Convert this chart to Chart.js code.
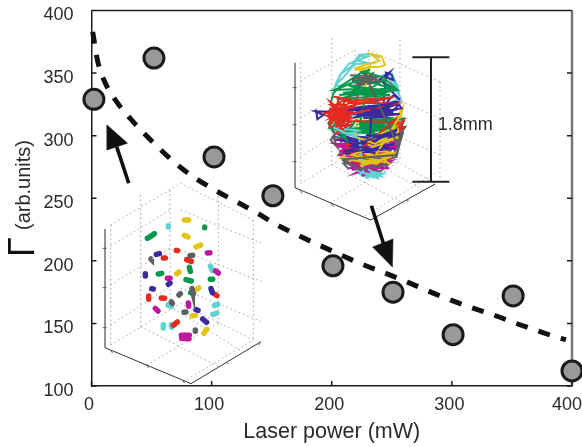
<!DOCTYPE html>
<html><head><meta charset="utf-8">
<style>html,body{margin:0;padding:0;background:#fff}#w{width:582px;height:447px;position:relative}</style>
<script src="https://cdn.jsdelivr.net/npm/chart.js@4"></script>
</head><body><div id="w"><canvas id="c" width="582" height="447"></canvas></div>
<script>
const xTickLabels=['0','100','200','300','400'];
const yTickLabels=['100','150','200','250','300','350','400'];
const laserPower=[2,52,102,151,201,251,301,351,400];
const gamma=[329,362,283,252,196,175,141,172,112];
const fitX=[1,5,11,21,32,53,75,100,125,140,150,175,200,226,245,263,290,315,334,352,370,389,395];
const fitY=[383,360,343,327,314,293,274,258,245,237,231,219,208,197,190,183,172,163,157,150.5,144.5,138.5,137];
const arrowUp=[[31,262],[21,291]];
const arrowUpHead=[[13,308.5],[13,288.5],[30,294],[13,308.5]];
const arrowDown=[[233,244],[243,214]];
const arrowDownHead=[[250.5,195],[234,211],[251,217.5],[250.5,195]];

// left inset (its own hidden axes)
const leftAxisV=[[45,57],[45,413]];
const leftEdges=[[45,413],[303,521],[513,395]];
const leftTicks=[[[38,115],[50,115]],[[38,233],[50,233]],[[38,353],[50,353]],[[62,420],[68,430]],[[170,466],[176,474]],[[278,512],[284,520]],[[410,458],[416,462]],[[505,405],[512,400]]];
const leftDots=[[[62,45],[62,405]],[[152,-45],[152,350]],[[240,-60],[240,290]],[[385,-55],[385,340]],[[490,30],[490,390]],
[[62,108],[240,0]],[[62,225],[240,115]],[[62,345],[240,230]],[[62,405],[272,280],[490,390]],[[62,45],[272,-80],[490,30]],
[[272,0],[515,100]],[[272,120],[515,215]],[[272,235],[515,335]],[[170,465],[385,340]],[[280,515],[490,390]],[[152,350],[385,470]],[[240,290],[450,420]]];
const clusterYellow=[[[283,30],[296,30]],[[283,76],[294,81]],[[318,111],[332,105]],[[260,191],[267,186]],[[320,238],[326,234]],[[306,318],[316,316]],[[342,370],[350,358]]];
const clusterCyan=[[[235,47],[235,51]],[[361,168],[367,182]],[[234,285],[244,289]],[[373,287],[383,283]],[[369,313],[381,309]],[[220,344],[220,354]],[[244,344],[245,352]]];
const clusterGreen=[[[344,51],[344,53]],[[172,85],[178,82]],[[178,82],[193,71]],[[298,172],[301,184]],[[205,192],[215,190]],[[361,208],[368,208]],[[288,209],[304,213]],[[302,248],[310,251]]];
const clusterRed=[[[259,121],[263,122]],[[220,144],[226,144]],[[290,149],[304,154]],[[176,258],[176,268]],[[214,264],[224,265]],[[375,253],[381,257]],[[250,346],[262,336]]];
const clusterPurple=[[[199,133],[208,131]],[[166,191],[166,198]],[[185,236],[190,237]],[[235,223],[240,219]],[[363,236],[367,248]],[[318,299],[324,301]],[[338,327],[350,337]]];
const clusterGray=[[[183,147],[184,148]],[[300,137],[308,136]],[[306,236],[307,240]],[[267,255],[271,251]],[[244,276],[247,280]],[[282,307],[288,306]],[[316,360],[316,364]]];
const clusterMagenta=[[[352,129],[360,128]],[[377,183],[385,189]],[[232,205],[240,205]],[[295,279],[296,289]],[[196,295],[204,303]],[[274,376],[298,376]],[[275,385],[297,386]]];

// right inset (its own hidden axes)
const rightAxisV=[[45,68],[45,443]];
const rightEdges=[[45,443],[272,540],[465,432]];
const rightTicks=[[[38,143],[50,143]],[[38,254],[50,254]],[[38,365],[50,365]],[[60,452],[66,460]],[[155,492],[161,500]],[[380,484],[386,480]],[[455,438],[462,434]]];
const rightDots=[[[62,68],[62,430]],[[155,-5],[155,375]],[[225,30],[225,335]],[[265,30],[265,310]],[[360,0],[360,360]],[[480,125],[480,420]],
[[62,122],[225,30]],[[62,235],[225,135]],[[62,350],[225,245]],[[62,430],[262,310],[465,432]],
[[265,30],[480,125]],[[265,140],[480,235]],[[265,250],[480,345]],[[150,490],[360,365]],[[255,528],[465,400]],[[155,375],[372,490]],[[225,335],[430,450]]];
const scaleBar=[[[397,52],[508,52]],[[453,52],[453,425]],[[397,425],[508,425]]];

const traceCyan=[[300,52],[270,42],[238,44],[226,62],[206,72],[186,98],[170,125],[160,150],[172,130],[192,110],[215,82],[228,72],[270,70],[232,62],[262,50],[240,48],[215,78],[182,102],[166,140],[335,100],[352,135],[358,165],[340,120],[322,105],[362,175],
[158,250],[225,262],[162,272],[232,282],[170,290],[240,300],[178,318],[230,322],[185,335],[232,345],[180,352],[345,300],[210,370],[330,345],[215,385],[310,370],[235,398],[300,392],[262,414],[240,402],[292,412],[310,400],[272,408],[225,390],[285,384],[240,395],[296,402],[260,405],[250,385],[280,415]];
const traceGray=[[210,106],[262,108],[245,115],[278,100],[266,124],[216,122],[252,130],[302,125],[240,135],[290,112],[250,100],[272,118],[225,112],[282,128],[230,128],[262,98],
[145,250],[165,282],[152,300],[172,322],[160,290],[210,300],[176,345],[260,330],[190,362],[212,376],[240,392],[220,368],[300,395],[330,370],[250,382],[350,350],[368,262],[352,300],[330,335],[360,275],[370,235],[300,270],[376,260],[340,315],[260,350],[325,365],[190,370],[205,385],[280,372],[340,342],[362,292],[342,276],[366,250]];
const traceMagenta=[[226,152],[262,146],[302,150],[250,158],[290,155],[240,148],[178,320],[280,300],[185,338],[320,310],[170,312],[250,330],[350,325],[190,352],[330,335],[205,372],[340,350],[215,390],[300,360],[225,400],[290,382],[245,408],[320,372],[210,345],[344,340],[178,332],[300,322],[200,305],[352,318],[230,372],[335,362],[260,395],[310,350],[192,328],[270,340],[230,355],[345,305],[165,300],[310,300],[180,345],[250,378],[328,385],[240,385],[330,328],[172,318],[290,335],[200,362],[320,345],[222,382],[300,372],[186,322],[262,312],[340,318],[210,332],[316,322],[238,362]];
const traceYellow=[[225,90],[262,82],[300,80],[315,75],[305,50],[272,42],[298,62],[258,74],[228,84],[245,92],[270,78],
[225,285],[270,310],[295,300],[340,268],[360,245],[330,280],[255,295],[300,312],[360,215],[350,295],[280,285],[235,270],[318,290],[362,235],[368,205],[340,255],[300,278],[185,352],[260,362],[335,350],[240,372],[320,360],[205,358],[290,372],[345,338],[250,350],[300,345],[225,340],[330,372],[280,345],[210,330],[322,335],[232,302],[300,298]];
const tracePurple=[[165,200],[130,225],[108,212],[112,238],[130,225],[105,214],[165,215],[200,212],[270,200],[350,185],[365,205],[300,215],[215,222],[330,208],[245,210],[345,195],[270,222],[360,222],[250,235],[320,232],[205,205],[290,196],[225,232],[340,216],[195,222],[310,205],
[318,98],[335,104],[340,120],[318,112],[330,96],[300,118],[348,152],[310,128],[360,180],[340,165],[318,190],[356,195],
[262,285],[335,290],[280,302],[350,272],[300,295],[360,282],[240,305],[320,310],[180,300],[260,325],[345,312],[195,342],[300,330],[220,322],[330,325],[180,285],[210,300],[250,312],[305,360],[222,352],[272,292],[352,296],[232,290],[316,300],[200,318]];
const traceGreen=[[152,190],[160,160],[180,140],[240,100],[270,90],[250,95],[310,112],[350,148],[300,135],[240,118],[190,140],[162,150],[215,148],[300,160],[352,150],[240,162],[170,178],[255,172],[330,165],[220,155],[280,140],[310,120],[330,145],[190,158],[290,168],[205,135],[320,155],[178,165],[260,152],
[240,250],[310,240],[250,262],[335,255],[245,272],[320,268],[265,248],[345,248],[255,280],[330,262],[280,240],[360,238],[240,268],[300,285],[150,265],[175,245],[200,300],[160,255],[190,290],[228,240],[268,258],[348,265],[238,258],[322,278],[250,245],[330,235],[262,270],[340,272],[248,254],[316,252],[232,265],[306,272],[270,238],[352,255],[244,276],[300,262]];
const traceRed=[[160,170],[200,175],[175,190],[215,205],[140,218],[205,225],[150,185],[190,240],[145,235],[210,255],[158,262],[200,280],[165,245],[215,235],[148,205],[185,215],[150,255],[178,172],[225,182],[262,178],[340,172],[280,185],[205,190],[155,230],[225,195],[170,280],[198,262],[145,222],[210,215],[165,200],[195,205],[158,240],[180,230],[350,190],[248,188],[190,182],[300,176],[212,198],[152,212],[200,232],[142,228],[186,252],[160,222],[208,245],[172,208],[152,195],[195,195],[168,262],[182,205],[150,242],
[330,245],[375,265],[345,258],[372,242],[360,270],[350,235],[240,330],[220,345],[260,352],[225,320],[198,312],[238,370],[205,345]];
const traceYellowLate=[[232,292],[285,312],[325,285],[262,300],[345,262],[300,305],[355,292],[215,345],[300,362],[240,378],[330,352],[262,368],[195,356],[345,346],[284,350],[360,228],[366,212]];
const tracePurpleLate=[[205,210],[260,205],[345,188],[285,215],[238,226],[330,212],[275,208],[270,288],[345,282],[290,296],[352,268],[215,318],[285,328],[190,335],[245,320]];
const traceCyanLate=[[192,268],[235,272],[205,285],[160,262],[238,296],[250,398],[300,408],[268,390],[290,414],[230,392]];
const traceGrayLate=[[215,118],[268,112],[235,130],[296,122],[255,104],[355,320],[370,275],[348,345],[190,358],[238,388],[322,372],[270,382]];

const yellow='#e3c414',cyan='#63d0d2',green='#03984a',red='#e52a1e',purple='#3a2a9e',gray='#5f5f5f',magenta='#c0179c';

function pts(list){return list.map(p=>({x:p[0],y:p[1]}));}
function segs(list){const o=[];list.forEach(s=>{s.forEach(p=>o.push({x:p[0],y:p[1]}));o.push({x:s[s.length-1][0],y:null});});return o;}

const bottomToTop=[];
function line(data,ax,ay,color,width,extra){bottomToTop.push(Object.assign({data,xAxisID:ax,yAxisID:ay,showLine:true,borderColor:color,borderWidth:width,pointRadius:0,pointHoverRadius:0,clip:false,spanGaps:false,tension:0},extra||{}));}

line(segs(leftDots),'xA','yA','#a0a0a0',1,{borderDash:[1.5,3]});
line(segs(rightDots),'xB','yB','#a8a8a8',1,{borderDash:[1.5,3]});
line(pts(leftAxisV),'xA','yA','#666',1.4);
line(pts(leftEdges),'xA','yA','#333',1);
line(segs(leftTicks),'xA','yA','#444',0.8);
line(pts(rightAxisV),'xB','yB','#666',1.4);
line(pts(rightEdges),'xB','yB','#333',1);
line(segs(rightTicks),'xB','yB','#444',0.8);

[[clusterYellow,yellow],[clusterCyan,cyan],[clusterGreen,green],[clusterRed,red],[clusterPurple,purple],[clusterGray,gray],[clusterMagenta,magenta]].forEach(c=>{
  line(segs(c[0]),'xA','yA',c[1],5.5,{borderCapStyle:'round'});
});
[[traceCyan,cyan],[traceGray,gray],[traceMagenta,magenta],[traceYellow,yellow],[tracePurple,purple],[traceGreen,green],[traceRed,red],[traceCyanLate,cyan],[traceYellowLate,yellow],[tracePurpleLate,purple],[traceGrayLate,gray]].forEach(c=>{
  line(pts(c[0]),'xB','yB',c[1],2);
});
line(segs(scaleBar),'xB','yB','#222',2);

line(fitX.map((x,i)=>({x,y:fitY[i]})),'x','y','#111',5,{borderDash:[12,11.4],cubicInterpolationMode:'monotone'});
line(pts(arrowUp),'x','y','#111',3.6);
line(pts(arrowUpHead),'x','y','#111',0.5,{fill:'shape',backgroundColor:'#111'});
line(pts(arrowDown),'x','y','#111',3.6);
line(pts(arrowDownHead),'x','y','#111',0.5,{fill:'shape',backgroundColor:'#111'});
bottomToTop.push({data:laserPower.map((x,i)=>({x,y:gamma[i]})),xAxisID:'x',yAxisID:'y',showLine:false,pointRadius:10,pointHoverRadius:10,pointBorderWidth:3,pointBackgroundColor:'#999999',pointBorderColor:'#1a1a1a',clip:false});

const frame={id:'frame',afterDatasetsDraw(ch){
  const a=ch.chartArea,c=ch.ctx,sx=ch.scales.x,sy=ch.scales.y;
  c.save();
  c.strokeStyle='#1c1c1c';c.lineWidth=1.5;
  c.beginPath();c.moveTo(a.left,a.top);c.lineTo(a.right,a.top);
  sx.ticks.forEach(t=>{const p=sx.getPixelForValue(t.value);c.moveTo(p,a.bottom);c.lineTo(p,a.bottom-5);});
  sy.ticks.forEach(t=>{const p=sy.getPixelForValue(t.value);c.moveTo(a.left,p);c.lineTo(a.left+5,p);c.moveTo(a.right,p);c.lineTo(a.right-5,p);});
  c.stroke();
  c.restore();
},beforeDatasetsDraw(ch){
  const a=ch.chartArea,c=ch.ctx;
  c.save();c.strokeStyle='#777';c.lineWidth=2.5;c.beginPath();c.moveTo(a.right,a.top);c.lineTo(a.right,a.bottom);c.stroke();c.restore();
},afterDraw(ch){
  const c=ch.ctx,sxB=ch.scales.xB,syB=ch.scales.yB;
  c.save();c.fillStyle='#2a2a2a';c.textBaseline='alphabetic';c.textAlign='left';
  c.font='18px "Liberation Sans"';
  c.fillText('1.8mm',sxB.getPixelForValue(473),syB.getPixelForValue(270));
  c.translate(29.5,230);c.rotate(-Math.PI/2);c.font='20px "Liberation Sans"';c.fillText('(arb.units)',0,0);
  c.restore();
  c.save();c.fillStyle='#111';c.translate(33.5,257);c.rotate(-Math.PI/2);c.font='36px "Liberation Sans"';c.fillText('Γ',0,0);c.restore();
}};

function hidden(axis,min,max,reverse){return {type:'linear',axis,position:axis==='x'?'bottom':'left',display:false,min,max,reverse:!!reverse};}
new Chart(document.getElementById('c'),{type:'scatter',plugins:[frame],
 data:{datasets:bottomToTop.slice().reverse()},
 options:{responsive:false,animation:false,devicePixelRatio:1,
  layout:{autoPadding:false,padding:{top:10.5,right:10,left:0,bottom:0}},
  plugins:{legend:{display:false},tooltip:{enabled:false}},
  scales:{
   x:{type:'linear',min:0,max:400,afterFit(s){s.height=61;s.paddingLeft=0;s.paddingRight=0;s.paddingTop=0;s.paddingBottom=0;},
      afterBuildTicks(s){s.ticks=xTickLabels.map(v=>({value:+v}));},
      grid:{display:false},border:{display:true,color:'#1c1c1c',width:1.5},
      ticks:{padding:0,labelOffset:-2.5,color:'#2a2a2a',font:{family:'"Liberation Sans"',size:18},maxRotation:0,autoSkip:false,callback:v=>v===400?'400 ':String(v)},
      title:{display:true,text:'Laser power (mW)',color:'#2a2a2a',font:{family:'"Liberation Sans"',size:21.5},padding:{top:0,bottom:2}}},
   y:{type:'linear',min:100,max:400,afterFit(s){s.width=91.5;s.paddingLeft=0;s.paddingRight=0;s.paddingTop=0;s.paddingBottom=0;},
      afterBuildTicks(s){s.ticks=yTickLabels.map(v=>({value:+v}));},
      grid:{display:false},border:{display:true,color:'#1c1c1c',width:1.5},
      ticks:{padding:10,labelOffset:5,color:'#2a2a2a',font:{family:'"Liberation Sans"',size:18},autoSkip:false}},
   xA:hidden('x',4.5,1446),yA:hidden('y',-598.5,528,true),
   xB:hidden('x',-565.5,876),yB:hidden('y',-88.5,1038,true)
  }}});
</script></body></html>
